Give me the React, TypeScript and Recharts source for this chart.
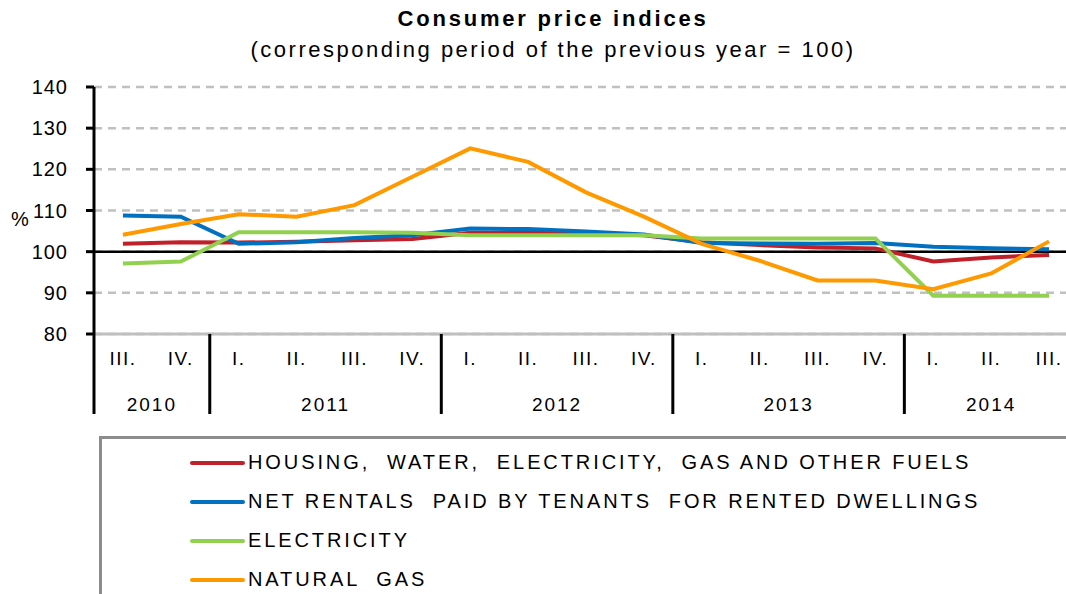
import { CartesianGrid, Line, LineChart, ReferenceLine, XAxis, YAxis } from "recharts";

const quarters = ['III.', 'IV.', 'I.', 'II.', 'III.', 'IV.', 'I.', 'II.', 'III.', 'IV.', 'I.', 'II.', 'III.', 'IV.', 'I.', 'II.', 'III.'];
const years = ['2010', '2010', '2011', '2011', '2011', '2011', '2012', '2012', '2012', '2012', '2013', '2013', '2013', '2013', '2014', '2014', '2014'];

const housing = [101.9, 102.3, 102.2, 102.4, 102.8, 103.1, 104.6, 104.6, 104.4, 104.0, 102.3, 101.6, 101.0, 100.8, 97.6, 98.6, 99.2];
const rentals = [108.8, 108.5, 101.9, 102.3, 103.3, 104.0, 105.6, 105.5, 104.9, 104.2, 102.1, 102.0, 101.9, 102.1, 101.2, 100.8, 100.6];
const electricity = [97.1, 97.6, 104.7, 104.7, 104.7, 104.6, 104.0, 104.0, 104.0, 104.0, 103.2, 103.2, 103.2, 103.2, 89.3, 89.3, 89.3];
const naturalGas = [104.1, 106.7, 109.1, 108.5, 111.3, 118.2, 125.1, 121.8, 114.4, 108.5, 101.9, 97.8, 93.0, 93.0, 90.9, 94.7, 102.5];

const yTicks = [80, 90, 100, 110, 120, 130, 140];

const series = [
   { key: 'housing', name: 'HOUSING,  WATER,  ELECTRICITY,  GAS AND OTHER FUELS', color: '#c0202a' },
   { key: 'rentals', name: 'NET RENTALS  PAID BY TENANTS  FOR RENTED DWELLINGS', color: '#0070c0' },
   { key: 'electricity', name: 'ELECTRICITY', color: '#92d050' },
   { key: 'gas', name: 'NATURAL  GAS', color: '#ff9900' },
];

const data = quarters.map((q, i) => ({
   key: `${years[i]}-${q}`,
   housing: housing[i],
   rentals: rentals[i],
   electricity: electricity[i],
   gas: naturalGas[i],
}));

const CHART_W = 1090;
const LEFT = 94;
const RIGHT = 12;
const BAND = (CHART_W - LEFT - RIGHT) / quarters.length;
const FONT = '"Liberation Sans", Arial, sans-serif';

function QuarterTick(props: any) {
   const { x, y, index } = props;
   const first = index === 0 || years[index] !== years[index - 1];
   return (
      <g>
         {first && <line x1={x - BAND / 2} x2={x - BAND / 2} y1={y} y2={y + 80} stroke="#000" strokeWidth={3} />}
         <text x={x} y={y + 31} textAnchor="middle" fontSize={19} fill="#000" fontFamily={FONT} letterSpacing={1.5}>
            {quarters[index]}
         </text>
      </g>
   );
}

function YearTick(props: any) {
   const { x, y, index } = props;
   if (index !== 0 && years[index] === years[index - 1]) return null;
   const n = years.filter((yr) => yr === years[index]).length;
   return (
      <text x={x + ((n - 1) / 2) * BAND} y={y + 37} textAnchor="middle" fontSize={19} fill="#000" fontFamily={FONT} letterSpacing={2}>
         {years[index]}
      </text>
   );
}

function ValueTick(props: any) {
   const { y, payload } = props;
   return (
      <text x={LEFT - 26} y={y + 7} textAnchor="end" fontSize={20} fill="#000" fontFamily={FONT} letterSpacing={1}>
         {payload.value}
      </text>
   );
}

export default function App() {
   return (
      <div style={{ position: 'fixed', left: 0, top: 0, width: 1066, height: 594, overflow: 'hidden', background: '#fff', fontFamily: FONT }}>
         <div style={{ position: 'absolute', left: 0, width: 1106, top: 6, textAlign: 'center', fontSize: 22, fontWeight: 'bold', letterSpacing: 2.8 }}>
            Consumer price indices
         </div>
         <div style={{ position: 'absolute', left: 0, width: 1106, top: 37, textAlign: 'center', fontSize: 22, letterSpacing: 2.5 }}>
            (corresponding period of the previous year = 100)
         </div>
         <div style={{ position: 'absolute', left: 11, top: 208, fontSize: 20 }}>%</div>
         <div style={{ position: 'absolute', left: 0, top: 0 }}>
            <LineChart width={CHART_W} height={420} data={data} margin={{ top: 87, right: RIGHT, bottom: 6, left: 0 }}>
               <CartesianGrid vertical={false} stroke="#c0c0c0" strokeWidth={2.5} strokeDasharray="8 6" />
               <XAxis
                  dataKey="key"
                  interval={0}
                  height={40}
                  tickSize={0}
                  tickMargin={0}
                  padding={{ left: BAND / 2, right: BAND / 2 }}
                  stroke="#bfbfbf"
                  strokeWidth={3}
                  tick={<QuarterTick />}
               />
               <XAxis
                  xAxisId="year"
                  dataKey="key"
                  interval={0}
                  height={40}
                  tickSize={0}
                  tickMargin={0}
                  padding={{ left: BAND / 2, right: BAND / 2 }}
                  axisLine={false}
                  tickLine={false}
                  tick={<YearTick />}
               />
               <YAxis
                  width={LEFT}
                  domain={[80, 140]}
                  ticks={yTicks}
                  interval={0}
                  stroke="#000"
                  strokeWidth={3}
                  tickSize={8}
                  tick={<ValueTick />}
               />
               <ReferenceLine y={100} stroke="#000" strokeWidth={2.5} />
               {series.map((s) => (
                  <Line key={s.key} type="linear" dataKey={s.key} name={s.name} stroke={s.color} strokeWidth={4} dot={false} isAnimationActive={false} />
               ))}
            </LineChart>
         </div>
         <div style={{ position: 'absolute', left: 99, top: 436, width: 1000, height: 200, borderTop: '3px solid #8c8c8c', borderLeft: '3px solid #8c8c8c' }}>
            {series.map((s, i) => (
               <div key={s.key} style={{ position: 'absolute', left: 88, top: 12 + i * 39, display: 'flex', alignItems: 'center', fontSize: 20, letterSpacing: 2.9, whiteSpace: 'pre' }}>
                  <span style={{ display: 'inline-block', width: 55, height: 4, background: s.color, marginRight: 3, borderRadius: 2 }} />
                  {s.name}
               </div>
            ))}
         </div>
      </div>
   );
}
